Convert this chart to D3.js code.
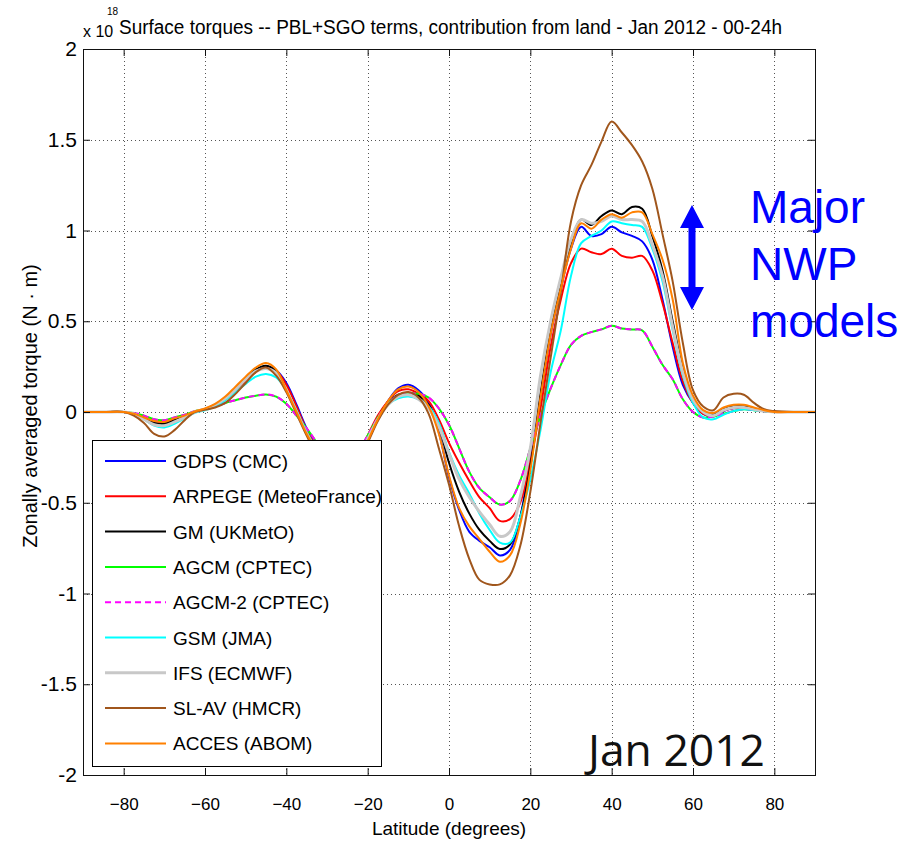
<!DOCTYPE html>
<html>
<head>
<meta charset="utf-8">
<script src="https://cdn.jsdelivr.net/npm/d3@7"></script>
<style>
  html, body { margin: 0; padding: 0; background: #fff; }
  svg { display: block; font-family: "Liberation Sans", Arial, Helvetica, sans-serif; }
</style>
</head>
<body>
<svg id="chart" width="902" height="847"></svg>
<script>
// Latitude grid (degrees) shared by every model curve
const latitudes = [
  -90, -85, -80,
  -77.5, -75, -72.5, -70, -67.5, -65, -62.5, -60,
  -57.5, -55, -52.5, -50, -47.5, -45, -42.5, -40,
  -37.5, -35, -32.5, -30, -27.5, -25, -22.5, -20,
  -17.5, -15, -12.5, -10, -7.5, -5, -2.5, 0,
  2.5, 5, 7.5, 10, 12.5, 15, 17.5, 20,
  22.5, 25, 27.5, 30, 32.5, 35, 37.5, 40,
  42.5, 45, 47.5, 50, 52.5, 55, 57.5, 60,
  62.5, 65, 67.5, 70, 72.5, 75, 77.5, 80,
  85, 90
];

// Zonally averaged torque, units of 1e18 N·m
const gdps = [
  0, 0, 0,
  -0.01, -0.03, -0.055, -0.06, -0.045, -0.025, 0.0, 0.015,
  0.035, 0.07, 0.12, 0.175, 0.225, 0.25, 0.23, 0.16,
  0.04, -0.09, -0.19, -0.3, -0.36, -0.34, -0.26, -0.15,
  -0.03, 0.06, 0.13, 0.15, 0.12, 0.05, -0.11, -0.36,
  -0.54, -0.66, -0.71, -0.745, -0.79, -0.76, -0.58, -0.26,
  0.08, 0.43, 0.68, 0.9, 1.02, 0.97, 0.98, 1.02,
  0.99, 0.97, 0.94, 0.84, 0.62, 0.36, 0.15, 0.05,
  -0.01, -0.025, 0.005, 0.02, 0.02, 0.012, 0.004, 0,
  0, 0
];
const arpege = [
  0, 0, 0,
  -0.01, -0.03, -0.05, -0.055, -0.04, -0.02, 0.0, 0.015,
  0.035, 0.07, 0.12, 0.17, 0.22, 0.245, 0.225, 0.15,
  0.03, -0.1, -0.2, -0.3, -0.35, -0.32, -0.24, -0.13,
  -0.02, 0.06, 0.115, 0.125, 0.1, 0.06, -0.04, -0.17,
  -0.28, -0.38, -0.47, -0.53, -0.6, -0.59, -0.5, -0.27,
  0.02, 0.36, 0.62, 0.82, 0.9, 0.88, 0.87, 0.9,
  0.86, 0.85, 0.86, 0.78, 0.6, 0.38, 0.17, 0.05,
  -0.01, -0.02, 0.008, 0.022, 0.022, 0.012, 0.004, 0,
  0, 0
];
const gm = [
  0, 0, 0,
  -0.01, -0.035, -0.06, -0.065, -0.045, -0.025, 0.0, 0.015,
  0.04, 0.08, 0.13, 0.185, 0.235, 0.255, 0.225, 0.12,
  0.0, -0.12, -0.22, -0.32, -0.37, -0.34, -0.26, -0.16,
  -0.04, 0.05, 0.095, 0.105, 0.09, 0.04, -0.08, -0.28,
  -0.44, -0.56, -0.65, -0.71, -0.755, -0.73, -0.58, -0.3,
  0.1, 0.45, 0.7, 0.93, 1.06, 1.03, 1.08, 1.11,
  1.09, 1.13, 1.12, 0.97, 0.78, 0.5, 0.24, 0.08,
  0.0, -0.015, 0.015, 0.03, 0.03, 0.02, 0.005, 0,
  0, 0
];
const agcm = [
  0, 0, 0,
  -0.005, -0.02, -0.04, -0.045, -0.03, -0.015, 0.005, 0.015,
  0.03, 0.05, 0.065, 0.08, 0.09, 0.097, 0.085, 0.045,
  -0.02, -0.09, -0.17, -0.26, -0.3, -0.28, -0.22, -0.13,
  -0.03, 0.05, 0.09, 0.1, 0.1, 0.08, 0.02, -0.07,
  -0.2, -0.33, -0.42, -0.47, -0.51, -0.49, -0.38, -0.2,
  -0.02, 0.13, 0.26, 0.37, 0.42, 0.44, 0.455, 0.475,
  0.46, 0.455, 0.45, 0.36, 0.26, 0.18, 0.07, 0.0,
  -0.03, -0.025, -0.01, 0.005, 0.015, 0.01, 0.005, 0,
  0, 0
];
const agcm2 = [
  0, 0, 0,
  -0.005, -0.02, -0.04, -0.045, -0.03, -0.015, 0.005, 0.015,
  0.03, 0.05, 0.065, 0.08, 0.09, 0.097, 0.085, 0.045,
  -0.02, -0.09, -0.17, -0.26, -0.3, -0.28, -0.22, -0.13,
  -0.03, 0.05, 0.09, 0.1, 0.1, 0.08, 0.02, -0.07,
  -0.2, -0.33, -0.42, -0.47, -0.51, -0.49, -0.38, -0.2,
  -0.02, 0.13, 0.26, 0.37, 0.42, 0.44, 0.455, 0.475,
  0.46, 0.455, 0.45, 0.36, 0.26, 0.18, 0.07, 0.0,
  -0.03, -0.025, -0.01, 0.005, 0.015, 0.01, 0.005, 0,
  0, 0
];
const gsm = [
  0, 0, 0,
  -0.01, -0.04, -0.075, -0.085, -0.065, -0.035, -0.005, 0.01,
  0.03, 0.065, 0.11, 0.155, 0.195, 0.21, 0.19, 0.12,
  0.01, -0.11, -0.21, -0.31, -0.36, -0.33, -0.25, -0.15,
  -0.04, 0.04, 0.075, 0.085, 0.07, 0.03, -0.06, -0.22,
  -0.35, -0.45, -0.56, -0.65, -0.72, -0.72, -0.58, -0.37,
  -0.1, 0.22, 0.45, 0.75, 0.93, 0.97, 1.0, 1.05,
  1.04, 1.03, 1.02, 0.9, 0.72, 0.45, 0.2, 0.05,
  -0.03, -0.04, -0.015, 0.005, 0.015, 0.01, 0.004, 0,
  0, 0
];
const ifs = [
  0, 0, 0,
  -0.01, -0.04, -0.07, -0.075, -0.055, -0.03, 0.0, 0.015,
  0.04, 0.075, 0.125, 0.18, 0.225, 0.24, 0.215, 0.12,
  0.0, -0.12, -0.22, -0.32, -0.37, -0.34, -0.26, -0.15,
  -0.04, 0.04, 0.085, 0.095, 0.07, 0.02, -0.08, -0.23,
  -0.37, -0.47, -0.55, -0.62, -0.685, -0.66, -0.47, -0.2,
  0.2, 0.5, 0.74, 0.95, 1.06, 1.04, 1.05, 1.08,
  1.06, 1.06, 1.05, 0.92, 0.75, 0.47, 0.22, 0.07,
  0.0, -0.02, 0.01, 0.025, 0.025, 0.015, 0.005, 0,
  0, 0
];
const slav = [
  0, 0, 0,
  -0.02, -0.06, -0.12, -0.135, -0.1, -0.045, 0.0, 0.012,
  0.025, 0.05, 0.1, 0.16, 0.22, 0.245, 0.2, 0.11,
  -0.01, -0.13, -0.24, -0.35, -0.4, -0.37, -0.28, -0.17,
  -0.05, 0.04, 0.095, 0.11, 0.08, -0.01, -0.2, -0.4,
  -0.63, -0.81, -0.925, -0.95, -0.95, -0.9, -0.74, -0.44,
  -0.06, 0.3, 0.66, 1.05, 1.25, 1.36, 1.49, 1.6,
  1.54, 1.47, 1.38, 1.23, 0.98, 0.72, 0.38, 0.12,
  0.03, 0.01, 0.08, 0.1, 0.095, 0.05, 0.015, 0.005,
  0, 0
];
const acces = [
  0, 0, 0,
  -0.01, -0.03, -0.05, -0.055, -0.035, -0.02, 0.003, 0.02,
  0.045, 0.085, 0.14, 0.195, 0.245, 0.27, 0.235, 0.12,
  0.0, -0.12, -0.22, -0.33, -0.38, -0.35, -0.27, -0.16,
  -0.04, 0.06, 0.125, 0.14, 0.11, 0.03, -0.12, -0.35,
  -0.53, -0.63, -0.7, -0.77, -0.825, -0.79, -0.62, -0.32,
  0.08, 0.43, 0.68, 0.9, 1.04, 1.01, 1.06, 1.09,
  1.07, 1.1, 1.1, 0.98, 0.84, 0.62, 0.27, 0.09,
  0.01, -0.005, 0.025, 0.04, 0.04, 0.025, 0.01, 0,
  0, 0
];

const seriesNames = [
  "GDPS (CMC)", "ARPEGE (MeteoFrance)", "GM (UKMetO)", "AGCM (CPTEC)",
  "AGCM-2 (CPTEC)", "GSM (JMA)", "IFS (ECMWF)", "SL-AV (HMCR)", "ACCES (ABOM)"
];
const seriesValues = [gdps, arpege, gm, agcm, agcm2, gsm, ifs, slav, acces];
const seriesColors = [
  "#0000ff", "#ff0000", "#000000", "#00ff00",
  "#ff00ff", "#00ffff", "#c8c8c8", "#a0561c", "#ff8000"
];
const seriesDash = [null, null, null, null, "6,4", null, null, null, null];
const seriesWidth = [2, 2, 2, 2, 2, 2, 3, 2, 2];

const xTicks = [-80, -60, -40, -20, 0, 20, 40, 60, 80];
const yTicks = [-2, -1.5, -1, -0.5, 0, 0.5, 1, 1.5, 2];
const yTickLabels = ["-2", "-1.5", "-1", "-0.5", "0", "0.5", "1", "1.5", "2"];

const titleText = "Surface torques -- PBL+SGO terms, contribution from land - Jan 2012 - 00-24h";
const noteLines = ["Major", "NWP", "models"];

const svg = d3.select("#chart");

const x = d3.scaleLinear().domain([-90, 90]).range([83, 815]);
const y = d3.scaleLinear().domain([-2, 2]).range([775, 49]);

// Dotted grid
const grid = svg.append("g").attr("stroke", "#555").attr("stroke-width", 1)
  .attr("stroke-dasharray", "1,3");
grid.selectAll("line.gx").data(xTicks).enter().append("line")
  .attr("x1", d => Math.round(x(d)) + 0.5).attr("x2", d => Math.round(x(d)) + 0.5)
  .attr("y1", y(2)).attr("y2", y(-2));
grid.selectAll("line.gy").data(yTicks.filter(v => v > -2 && v < 2)).enter().append("line")
  .attr("y1", d => Math.round(y(d)) + 0.5).attr("y2", d => Math.round(y(d)) + 0.5)
  .attr("x1", x(-90)).attr("x2", x(90));

// Model curves
svg.append("clipPath").attr("id", "plotArea").append("rect")
  .attr("x", x(-90)).attr("y", y(2)).attr("width", x(90) - x(-90)).attr("height", y(-2) - y(2));

const line = d3.line()
  .x((d, i) => x(latitudes[i]))
  .y(d => y(d))
  .curve(d3.curveCatmullRom.alpha(0.5));

const curves = svg.append("g").attr("clip-path", "url(#plotArea)");
seriesValues.forEach((vals, k) => {
  curves.append("path")
    .attr("d", line(vals))
    .attr("fill", "none")
    .attr("stroke", seriesColors[k])
    .attr("stroke-width", seriesWidth[k])
    .attr("stroke-linejoin", "round")
    .attr("stroke-dasharray", seriesDash[k]);
});

// Axes with inward ticks on all four sides
const axisColor = "#111";
const gBottom = svg.append("g").attr("transform", `translate(0,${y(-2)})`)
  .call(d3.axisBottom(x).tickValues(xTicks).tickSizeInner(-7).tickSizeOuter(0).tickPadding(23));
const gLeft = svg.append("g").attr("transform", `translate(${x(-90)},0)`)
  .call(d3.axisLeft(y).tickValues(yTicks).tickFormat((d, i) => yTickLabels[i])
    .tickSizeInner(-7).tickSizeOuter(0).tickPadding(6));
const gTop = svg.append("g").attr("transform", `translate(0,${y(2)})`)
  .call(d3.axisTop(x).tickValues(xTicks).tickFormat("").tickSizeInner(-7).tickSizeOuter(0));
const gRight = svg.append("g").attr("transform", `translate(${x(90)},0)`)
  .call(d3.axisRight(y).tickValues(yTicks).tickFormat("").tickSizeInner(-7).tickSizeOuter(0));
[gBottom, gLeft, gTop, gRight].forEach(g => {
  g.select(".domain").remove();
  g.selectAll(".tick line").attr("stroke", axisColor);
});
gBottom.selectAll(".tick text").attr("font-size", 17).attr("fill", "#000")
  .attr("font-family", "'Liberation Sans', Arial, sans-serif");
gLeft.selectAll(".tick text").attr("font-size", 21).attr("fill", "#000")
  .attr("font-family", "'Liberation Sans', Arial, sans-serif");

svg.append("rect")
  .attr("x", x(-90) + 0.5).attr("y", y(2) + 0.5)
  .attr("width", x(90) - x(-90)).attr("height", y(-2) - y(2))
  .attr("fill", "none").attr("stroke", axisColor).attr("stroke-width", 1);

// Title with scale factor
svg.append("text").attr("x", 83).attr("y", 37).attr("font-size", 16).text("x 10");
svg.append("text").attr("x", 107).attr("y", 15).attr("font-size", 10).text("18");
svg.append("text").attr("x", 119).attr("y", 34).attr("font-size", 20)
  .attr("textLength", 663).attr("lengthAdjust", "spacingAndGlyphs").text(titleText);

// Axis titles
svg.append("text").attr("x", 449).attr("y", 835).attr("text-anchor", "middle")
  .attr("font-size", 19).text("Latitude (degrees)");
svg.append("text")
  .attr("transform", "translate(37,406) rotate(-90)")
  .attr("text-anchor", "middle").attr("font-size", 20)
  .text("Zonally averaged torque (N \u00b7 m)");

// Legend
const legend = svg.append("g");
legend.append("rect").attr("x", 92.5).attr("y", 440.5).attr("width", 289).attr("height", 326)
  .attr("fill", "#fff").attr("stroke", "#000").attr("stroke-width", 1);
seriesNames.forEach((name, k) => {
  const cy = 461 + k * 35.3;
  legend.append("line").attr("x1", 105).attr("x2", 166).attr("y1", cy).attr("y2", cy)
    .attr("stroke", seriesColors[k]).attr("stroke-width", seriesWidth[k])
    .attr("stroke-dasharray", seriesDash[k]);
  legend.append("text").attr("x", 173).attr("y", cy + 7).attr("font-size", 19).text(name);
});

// Month annotation
svg.append("text").attr("x", 588).attr("y", 766).attr("font-size", 44)
  .attr("font-family", "'Open Sans', 'Noto Sans', sans-serif").attr("fill", "#111")
  .attr("textLength", 177).attr("lengthAdjust", "spacingAndGlyphs").text("Jan 2012");

// Highlight of the major NWP models
const note = svg.append("g").attr("fill", "#0000ff");
noteLines.forEach((t, i) => {
  note.append("text").attr("x", 750).attr("y", 223 + i * 57).attr("font-size", 46).text(t);
});
const arrowX = 692, arrowTop = 205, arrowBot = 310, headHalf = 12, headLen = 23, shaftHalf = 3.5;
note.append("path").attr("d",
  `M${arrowX},${arrowTop} L${arrowX + headHalf},${arrowTop + headLen} L${arrowX + shaftHalf},${arrowTop + headLen}` +
  ` L${arrowX + shaftHalf},${arrowBot - headLen} L${arrowX + headHalf},${arrowBot - headLen} L${arrowX},${arrowBot}` +
  ` L${arrowX - headHalf},${arrowBot - headLen} L${arrowX - shaftHalf},${arrowBot - headLen}` +
  ` L${arrowX - shaftHalf},${arrowTop + headLen} L${arrowX - headHalf},${arrowTop + headLen} Z`);
</script>
</body>
</html>
